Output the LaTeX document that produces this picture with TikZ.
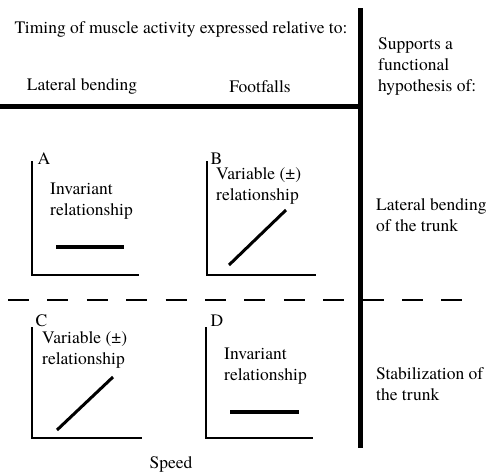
\documentclass[tikz,border=0pt]{standalone}
\usepackage{fontspec}
\setmainfont{TeX Gyre Termes}

\begin{document}
\begin{tikzpicture}[x=1pt,y=-1pt,
  every node/.style={inner sep=0pt,font=\fontsize{17.5}{21}\selectfont},
  label text/.style={anchor=west,align=left},
  axis line/.style={line width=1.6pt},
  trend line/.style={line width=3pt},
  level line/.style={line width=4pt}]

\useasboundingbox (0,0) rectangle (492,472);

% Frame
\draw[line width=5pt] (360,8) -- (360,448);
\draw[line width=5pt] (0,106) -- (360,106);
\draw[line width=2pt,dash pattern=on 21pt off 18.4pt] (8,300) -- (463,300);

% Headings
\node (title) at (181,29.5) {Timing of muscle activity expressed relative to:};
\node (bend) at (82,86.5) {Lateral bending};
\node (foot) at (260,86.5) {Footfalls};
\node[label text] (supp) at (378,66) {Supports a\\functional\\hypothesis of:};

% Panel A
\draw[axis line] (32,161) -- (32,275) -- (139,275);
\node (A) at (44,159) {A};
\node[label text] (textA) at (50,201) {Invariant\\relationship};
\draw[level line] (56,247) -- (124,247);

% Panel B
\draw[axis line] (207,161) -- (207,275) -- (316,275);
\node (B) at (216.5,159) {B};
\node[label text] (textB) at (216,186) {Variable (±)\\relationship};
\draw[trend line] (229,265) -- (286,210);

% Panel C
\draw[axis line] (32,327) -- (32,438) -- (142,438);
\node (C) at (41.5,321) {C};
\node[label text] (textC) at (42,350) {Variable (±)\\relationship};
\draw[trend line] (57,430) -- (113,377);

% Panel D
\draw[axis line] (206,327) -- (206,438) -- (313,438);
\node (D) at (217,321) {D};
\node[label text] (textD) at (224,366.5) {Invariant\\relationship};
\draw[level line] (230,412) -- (299,412);

% Hypotheses
\node[label text] (trunk) at (376,215) {Lateral bending\\of the trunk};
\node[label text] (stab) at (376,384) {Stabilization of\\the trunk};

% Speed axis
\node (speed) at (171,464) {Speed};

\end{tikzpicture}
\end{document}
